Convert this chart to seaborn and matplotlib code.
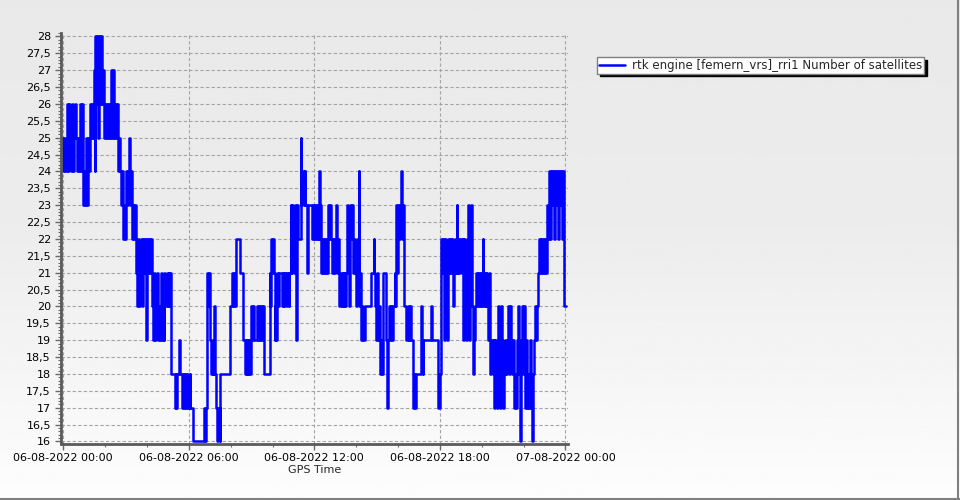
import numpy as np
import pandas as pd
import matplotlib
matplotlib.use("Agg")
import matplotlib.pyplot as plt
from matplotlib.lines import Line2D
from matplotlib.ticker import MultipleLocator, FuncFormatter
import seaborn as sns

# Data: minutes after 06-08-2022 00:00 and satellite count (step values)
minutes = [
    -3, 0, 2, 6, 11, 14, 17, 20, 22, 25, 28, 31, 34, 37, 39, 42, 45, 48, 51, 54, 56, 59,
    62, 65, 68, 71, 74, 77, 79, 82, 85, 87, 90, 92, 95, 97, 99, 102, 105, 108, 111, 114,
    117, 120, 123, 126, 129, 131, 134, 136, 139, 142, 144, 146, 148, 151, 154, 157, 160,
    163, 166, 168, 171, 174, 177, 180, 182, 185, 188, 191, 194, 197, 200, 203, 205, 208,
    211, 214, 217, 220, 223, 225, 228, 231, 234, 238, 240, 243, 246, 248, 251, 254, 257,
    260, 263, 266, 268, 271, 274, 277, 280, 283, 286, 289,
    290, 293, 296, 299, 302, 304, 307, 309, 319, 322, 324, 326, 333, 336, 341, 344, 347,
    350, 353, 356, 359, 362, 363, 372, 403, 406, 409, 411, 413, 416, 419, 421, 425, 428,
    430, 433, 436, 439, 442, 445, 448, 450, 478, 484, 487, 489, 492, 494, 507, 515, 520,
    523, 526, 528, 531, 534, 536, 539, 542, 544, 546, 555, 558, 561, 564, 567, 570, 573,
    575, 592, 594, 596, 599, 601, 604,
    606, 608, 611, 614, 617, 619, 627, 629, 632, 634, 639, 641, 646, 648, 652, 654, 656,
    659, 662, 665, 668, 670, 673, 681, 683, 686, 689, 692, 694, 699, 701, 713, 716, 718,
    721, 724, 727, 730, 733, 735, 737, 740, 743, 745, 748, 751, 754, 757, 759, 762, 764,
    767, 770, 773, 776, 779, 782, 784, 787, 790, 792, 795, 798, 801, 804, 806, 809, 812,
    814, 817, 820, 822, 825, 827, 830, 833, 836, 839, 842, 845, 847, 849, 852, 854, 857,
    860, 864, 883, 890, 892,
    895, 897, 899, 902, 905, 908, 911, 914, 917, 918, 926, 929, 932, 935, 938, 941, 944,
    946, 950, 952, 955, 957, 960, 963, 966, 969, 971, 974, 976, 983, 988, 991, 995, 998,
    1004, 1007, 1009, 1012, 1026, 1028, 1031, 1033, 1055, 1057, 1074, 1080, 1083, 1086,
    1089, 1093, 1095, 1098, 1101, 1103, 1106, 1109, 1112, 1115, 1117, 1120, 1122, 1125,
    1128, 1130, 1133, 1136, 1139, 1142, 1145, 1146, 1149, 1152, 1155, 1158, 1161, 1164,
    1167, 1169, 1172, 1175, 1177,
    1181, 1184, 1187, 1190, 1193, 1195, 1198, 1201, 1203, 1205, 1208, 1211, 1213, 1216,
    1219, 1222, 1225, 1228, 1231, 1234, 1236, 1239, 1242, 1245, 1247, 1250, 1253, 1256,
    1259, 1262, 1265, 1267, 1270, 1273, 1275, 1278, 1281, 1284, 1287, 1290, 1293, 1295,
    1298, 1301, 1304, 1307, 1310, 1312, 1315, 1318, 1321, 1323, 1326, 1329, 1332, 1335,
    1338, 1341, 1344, 1346, 1349, 1352, 1355, 1358, 1361, 1363, 1366, 1369, 1372, 1375,
    1378, 1381, 1384, 1386, 1389, 1392, 1395, 1398, 1401, 1403, 1406, 1409, 1412, 1415,
    1418, 1421, 1424, 1426, 1429, 1432, 1435, 1437, 1441,
]
sats = [
    25, 24, 25, 24, 26, 24, 26, 25, 24, 26, 24, 25, 26, 25, 24, 25, 24, 26, 24, 26, 23, 24,
    23, 25, 23, 25, 24, 26, 25, 26, 25, 27, 24, 28, 26, 28, 25, 28, 26, 28, 26, 27,
    25, 26, 25, 26, 25, 26, 25, 27, 25, 27, 26, 25, 26, 25, 26, 24, 25,
    24, 23, 24, 22, 23, 22, 24, 23, 24, 25, 23, 24, 22, 23, 22, 23, 21,
    20, 22, 20, 21, 22, 20, 22, 21, 22, 19, 22, 21, 22, 21, 22, 20, 19,
    21, 19, 20, 21, 19, 20, 19, 21, 19, 20, 19,
    21, 20, 21, 20, 21, 20, 21, 18, 17, 18, 17, 18, 19, 18, 17, 18, 17,
    18, 17, 18, 17, 18, 17, 16, 17, 16, 17, 20, 21, 20, 21, 19, 18, 19,
    18, 20, 18, 17, 16, 17, 16, 18, 20, 21, 20, 21, 20, 22, 21, 19, 18,
    19, 18, 19, 18, 19, 18, 20, 19, 20, 19, 20, 19, 20, 19, 20, 19, 20,
    18, 21, 20, 22, 21, 22, 21,
    19, 20, 19, 21, 20, 21, 20, 21, 20, 21, 20, 21, 20, 21, 23, 21, 23,
    22, 21, 23, 19, 23, 22, 25, 23, 24, 23, 24, 23, 21, 23, 22, 23, 22,
    23, 22, 23, 22, 24, 22, 23, 21, 22, 21, 22, 21, 22, 21, 23, 22, 23,
    22, 21, 22, 21, 22, 23, 21, 22, 21, 20, 21, 20, 21, 20, 21, 20, 21,
    23, 22, 20, 23, 22, 23, 21, 22, 21, 20, 22, 21, 24, 20, 21, 19, 20,
    19, 20, 21, 22, 21,
    20, 19, 21, 19, 20, 18, 19, 18, 20, 21, 19, 17, 19, 20, 19, 20, 19,
    20, 21, 20, 23, 21, 23, 22, 23, 24, 22, 23, 20, 19, 20, 19, 20, 19,
    17, 18, 17, 18, 20, 19, 18, 19, 20, 19, 17, 18, 22, 21,
    22, 19, 22, 21, 19, 22, 21, 22, 21, 22, 20, 21, 22, 21,
    23, 21, 22, 21, 22, 21, 22, 19, 22, 21, 19, 22, 23, 19,
    22, 23, 20, 18, 19,
    20, 21, 20, 21, 20, 21, 20, 21, 22, 20, 21, 20, 21, 20,
    19, 21, 18, 19, 18, 19, 17, 19, 18, 17, 20, 18, 17, 20,
    19, 17, 18, 19, 18, 19, 20, 18, 20, 19, 18, 19, 17, 18,
    17, 19, 20, 18, 16, 19, 20, 18, 20, 17, 19, 17, 18, 17,
    19, 17, 16, 18, 19, 20, 19, 20, 21, 22, 21, 22, 21, 22,
    21, 22, 21, 23, 22, 24, 22, 24, 23, 24, 22, 24, 23, 24,
    22, 24, 23, 24, 22, 24, 23, 20, 20,
]
y_ticks = np.arange(16, 28.5, 0.5)
series_name = "rtk engine [femern_vrs]_rri1 Number of satellites"

start = pd.Timestamp("2022-08-06 00:00")
df = pd.DataFrame({"hours": np.array(minutes) / 60, "sats": sats})

sns.set_style("white")
plt.rcParams["font.family"] = ["DejaVu Sans"]

fig = plt.figure(figsize=(9.6, 5.0), dpi=100)

# light grey to white vertical gradient behind everything
bg = fig.add_axes([0, 0, 1, 1], zorder=-10)
shade = np.interp(np.linspace(0, 1, 256), [0, 0.45, 1], [233, 236, 253])
bg.imshow(shade[:, None], cmap="gray", vmin=0, vmax=255, aspect="auto", extent=[0, 1, 0, 1])
bg.axis("off")

ax = fig.add_axes([0.0632, 0.113, 0.5285, 0.821])
ax.patch.set_alpha(0)

sns.lineplot(data=df, x="hours", y="sats", drawstyle="steps-post", color="#0000ff",
             linewidth=1.8, estimator=None, sort=False, label=series_name, ax=ax)

ax.set_xlim(-7.5 / 60, 1447.5 / 60)
ax.set_ylim(15.94, 28.1)

ax.xaxis.set_major_locator(MultipleLocator(6))
ax.xaxis.set_minor_locator(MultipleLocator(2))
ax.xaxis.set_major_formatter(FuncFormatter(
    lambda v, p: (start + pd.Timedelta(hours=v)).strftime("%d-%m-%Y %H:%M")))
ax.set_yticks(y_ticks)
ax.yaxis.set_minor_locator(MultipleLocator(0.1))
ax.yaxis.set_major_formatter(FuncFormatter(lambda v, p: f"{v:g}".replace(".", ",")))

ax.set_axisbelow(True)
ax.grid(True, which="major", color="#a4a4a4", linestyle=(0, (3, 2)), linewidth=0.8)

for s in ["top", "right"]:
    ax.spines[s].set_visible(False)
for s in ["left", "bottom"]:
    ax.spines[s].set_color("#5a5a5a")
    ax.spines[s].set_linewidth(2)

ax.tick_params(which="both", bottom=True, left=True, color="#6a6a6a")
ax.tick_params(which="major", length=4, width=1, labelsize=8, labelcolor="black", pad=3)
ax.tick_params(which="minor", length=2, width=0.8)

ax.set_xlabel("GPS Time", fontsize=8, labelpad=1)
ax.set_ylabel("")

ax.legend(loc="upper left", bbox_to_anchor=(0.622, 0.886), bbox_transform=fig.transFigure,
          fontsize=8.5, frameon=True, fancybox=False, framealpha=1, edgecolor="#808080",
          shadow={"color": "black", "alpha": 1}, handlelength=2.2, borderpad=0.15,
          handletextpad=0.6, borderaxespad=0)

# thin frame on the right and bottom of the picture
fig.add_artist(Line2D([0, 1], [0.003, 0.003], transform=fig.transFigure, color="#808080", lw=1.5))
fig.add_artist(Line2D([0.998, 0.998], [0, 1], transform=fig.transFigure, color="#808080", lw=1.5))

fig.savefig("out.png", dpi=100)
